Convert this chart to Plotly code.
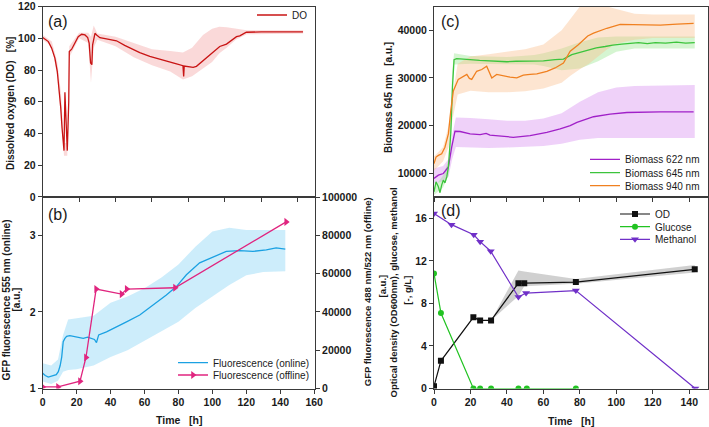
import plotly.graph_objects as go

FONT = "Liberation Sans, Arial, sans-serif"

# ---------------- Panel (a): dissolved oxygen ----------------
do_time = [0, 3.1, 4.9, 6.7, 8.0, 8.9, 9.9, 10.6, 11.3, 11.7, 12.2, 12.8, 13.5, 14.3, 14.6,
           15.9, 17.7, 19.5, 21.4, 23.2, 24.7, 25.5, 26.3, 27.0, 27.4, 27.8, 28.7, 29.6,
           31.4, 35, 40.5, 45, 49.7, 53.3, 58.8, 64.3, 68, 73, 77, 77.4, 77.7, 80, 82.6,
           84.4, 88, 93.5, 97.2, 100.9, 106.4, 108.2, 111.8, 120, 130, 142.9]
do_value = [100.5, 97.9, 93.8, 87.5, 79.2, 68.8, 56.3, 43.8, 33.4, 29.2, 66, 45, 29.2, 60, 91.7,
            93.1, 96.9, 101, 102.5, 102.1, 100.4, 96.9, 84.4, 83.4, 95.9, 97.9, 103.1, 102.1,
            100.4, 99.6, 98.4, 95.5, 92.7, 91, 88.6, 87, 85.9, 84, 82.7, 76, 82.5, 82, 81.7,
            82.3, 85.9, 91.7, 94.8, 96.3, 101, 101.5, 103.8, 104, 104, 104]
do_band_time = [0, 5, 8, 10, 11.7, 13.5, 14.6, 20, 25, 26.5, 28, 30, 40, 50, 60, 70, 77, 82,
                88, 93, 97, 101, 106, 112, 143]
do_band_low = [99, 95, 76, 52, 26, 26, 88, 100, 97, 72, 94, 99, 95, 88, 83, 79, 74, 76,
               81, 85, 90.5, 94, 99, 102.5, 103]
do_band_high = [102, 98, 85, 66, 34, 34, 95, 103.5, 103.5, 101, 108, 103, 101, 97, 93, 92, 91, 94,
                102, 106, 107.3, 107, 106, 105, 105]
do_ticks = [0, 20, 40, 60, 80, 100, 120]

# ---------------- Panel (b): GFP fluorescence ----------------
fl_time = [0, 1.5, 3.3, 5, 6.3, 8, 9.2, 10.3, 11.2, 12.1, 13, 14.1, 16, 18, 21, 23.9, 26.5,
           28.8, 30.5, 31.7, 33, 37.6, 43.5, 49.4, 57.2, 65.1, 72.9, 78.8, 84.7, 92.5, 100.4,
           108.2, 116.1, 123.9, 131.8, 137.6, 143]
fl_value = [1.2, 1.17, 1.15, 1.16, 1.16, 1.18, 1.22, 1.3, 1.41, 1.61, 1.65, 1.68, 1.69, 1.68,
            1.67, 1.655, 1.67, 1.655, 1.64, 1.6, 1.7, 1.74, 1.81, 1.87, 1.96, 2.09, 2.22, 2.33,
            2.485, 2.64, 2.72, 2.79, 2.80, 2.79, 2.81, 2.835, 2.82]
fl_band_time = [0, 5, 9, 12, 15, 20, 30, 40, 50, 60, 70, 80, 90, 100, 110, 120, 130, 143]
fl_band_low = [1.09, 1.06, 1.1, 1.22, 1.24, 1.25, 1.3, 1.41, 1.5, 1.63, 1.75, 1.87, 2.05,
               2.2, 2.35, 2.48, 2.52, 2.53]
fl_band_high = [1.33, 1.3, 1.38, 1.7, 1.9, 1.92, 1.95, 2.12, 2.2, 2.31, 2.45, 2.62, 2.85,
                3.05, 3.1, 3.07, 3.07, 3.07]
off_time = [0, 9, 22, 25.5, 31.5, 46.5, 49.5, 78, 143.5]
off_value = [800, 800, 3800, 16200, 51900, 49300, 51900, 52600, 87000]
time_ticks_b = [0, 20, 40, 60, 80, 100, 120, 140, 160]
fl_ticks = [1, 2, 3]
off_ticks = [0, 20000, 40000, 60000, 80000, 100000]

# ---------------- Panel (c): biomass ----------------
b622_time = [0, 2.4, 5.1, 7.9, 9.7, 11.5, 14.3, 19.8, 25.3, 28.6, 30.7, 43.5, 52.7, 61.9,
             69.2, 74.7, 78.4, 87.5, 96.6, 105.8, 124.1, 142.4]
b622_value = [8900, 9580, 9930, 11300, 15460, 18800, 18750, 18250, 18100, 18370, 18000, 17540,
              17900, 18580, 19290, 19980, 20670, 21850, 22400, 22740, 22880, 22890]
b622_band_time = [0, 5, 8, 10, 12, 20, 30, 40, 50, 60, 70, 80, 90, 100, 110, 120, 143]
b622_band_low = [7800, 8300, 9300, 13000, 15500, 15400, 15300, 15400, 15500, 15700, 16200,
                 17000, 17400, 17400, 17400, 17400, 17400]
b622_band_high = [11000, 11500, 13000, 18000, 21700, 21600, 21300, 21000, 21000, 21500, 22600,
                  25000, 27000, 28000, 28300, 28400, 28500]

b645_time = [0, 1.1, 2.4, 3.3, 4.2, 5.1, 6, 7, 7.9, 9.2, 10.2, 11, 12.4, 16, 19.8, 25, 30,
             34.4, 40, 45, 52.7, 60, 66.4, 71, 75.6, 80, 84.7, 89, 93.9, 98, 103, 108, 112.2,
             117, 121.4, 127, 133, 138, 143]
b645_value = [6100, 8180, 7140, 5900, 7500, 8540, 7980, 9220, 11300, 18250, 28650, 33850, 34060,
              33900, 33850, 33700, 33600, 33500, 33400, 33500, 33500, 33600, 33850, 33950, 34900,
              35400, 35930, 36300, 36600, 36900, 37100, 37300, 37400, 37200, 37400, 37300, 37500,
              37300, 37400]
b645_band_time = [0, 5, 8, 10, 11, 20, 40, 55, 60, 70, 80, 90, 100, 110, 120, 143]
b645_band_low = [5400, 7000, 9500, 25000, 32800, 33000, 32900, 32800, 32500, 31600, 32000,
                 33500, 35500, 36200, 36200, 36200]
b645_band_high = [7000, 9500, 12800, 31500, 35200, 34600, 34400, 34800, 35200, 36200, 37500,
                  38500, 38700, 38700, 38700, 38700]

b940_time = [0, 1.1, 2.4, 4.2, 6, 7, 7.9, 9.2, 10.6, 13.3, 16.1, 18, 19.4, 20.7, 23.4, 26.2,
             28.9, 31.7, 34.4, 38, 41.7, 45.4, 49, 52.7, 56.4, 61.9, 66.4, 71, 74.7, 79, 84.3,
             87.5, 94.8, 102.1, 115, 124.1, 133.3, 142.4]
b940_value = [12000, 13380, 13740, 14090, 15460, 16860, 18250, 23100, 27260, 29700, 30380, 30730,
              29900, 29700, 31400, 31770, 32460, 30000, 30730, 30400, 30180, 30000, 30580, 30730,
              30870, 31400, 32100, 33140, 35600, 36900, 38800, 39400, 40430, 41250, 41250, 41100,
              41300, 41450]
b940_band_time = [0, 5, 8, 10, 13, 20, 30, 40, 50, 60, 65, 70, 75, 80, 85, 90, 95, 100, 110,
                  120, 143]
b940_band_low = [10500, 12500, 15500, 21000, 26500, 27300, 27000, 27000, 27200, 27800, 28400,
                 29000, 30500, 31800, 33000, 34500, 36000, 37200, 38000, 38400, 38400]
b940_band_high = [13500, 15500, 20000, 26000, 33000, 34500, 35000, 35500, 36000, 37000, 38500,
                  40000, 42500, 45000, 45000, 45000, 45000, 44500, 43500, 43300, 43300]
biomass_ticks = [10000, 20000, 30000, 40000]

# ---------------- Panel (d): OD, glucose, methanol ----------------
od_time = [0, 3.8, 21.6, 25.3, 31.3, 46.3, 49.5, 77.8, 143]
od_value = [0.2, 2.6, 6.69, 6.4, 6.4, 9.9, 9.9, 10.0, 11.2]
od_band_time = [31.3, 46.3, 49.5, 77.8, 143]
od_band_low = [6.4, 8.7, 9.6, 9.85, 10.9]
od_band_high = [6.4, 11.1, 11.0, 10.3, 11.6]
glc_time = [0, 3.8, 21.6, 25.3, 31.3, 46.3, 50.9, 77.8]
glc_value = [10.8, 7.1, 0, 0, 0, 0, 0, 0]
meoh_time = [0, 9.6, 21.8, 25.3, 31.1, 46.3, 50.5, 77.8, 143.3]
meoh_value = [16.45, 15.4, 14.45, 13.8, 12.9, 8.6, 8.97, 9.2, 0]
time_ticks_d = [0, 20, 40, 60, 80, 100, 120, 140]
conc_ticks = [0, 4, 8, 12, 16]

# ---------------- colours ----------------
C_DO = "#c81414"
C_FL = "#1ba1e2"
C_OFF = "#e0257f"
C_622 = "#a020c8"
C_645 = "#3cc43c"
C_940 = "#f08020"
C_GLC = "#22c322"
C_MEOH = "#7030c8"

fig = go.Figure()


def band(t, lo, hi, color, xa, ya):
    fig.add_trace(go.Scatter(x=list(t) + list(t)[::-1], y=list(hi) + list(lo)[::-1],
                             fill="toself", fillcolor=color, line=dict(width=0),
                             mode="lines", hoverinfo="skip", showlegend=False,
                             xaxis=xa, yaxis=ya))


# (a)
band(do_band_time, do_band_low, do_band_high, "rgba(240,140,140,0.33)", "x", "y")
fig.add_trace(go.Scatter(x=do_time, y=do_value, mode="lines", name="DO",
                         line=dict(color=C_DO, width=1.3), xaxis="x", yaxis="y",
                         legend="legend"))
# (b)
band(fl_band_time, fl_band_low, fl_band_high, "rgba(130,210,245,0.40)", "x2", "y2")
fig.add_trace(go.Scatter(x=fl_time, y=fl_value, mode="lines", name="Fluorescence (online)",
                         line=dict(color=C_FL, width=1.3), xaxis="x2", yaxis="y2",
                         legend="legend2"))
fig.add_trace(go.Scatter(x=off_time, y=off_value, mode="lines+markers",
                         name="Fluorescence (offline)",
                         line=dict(color=C_OFF, width=1.3),
                         marker=dict(symbol="triangle-right", size=7, color=C_OFF),
                         xaxis="x2", yaxis="y3", legend="legend3"))
# (c)
band(b622_band_time, b622_band_low, b622_band_high, "rgba(215,140,240,0.40)", "x3", "y4")
band(b645_band_time, b645_band_low, b645_band_high, "rgba(150,230,140,0.40)", "x3", "y4")
band(b940_band_time, b940_band_low, b940_band_high, "rgba(250,190,140,0.40)", "x3", "y4")
fig.add_trace(go.Scatter(x=b622_time, y=b622_value, mode="lines", name="Biomass 622 nm",
                         line=dict(color=C_622, width=1.3), xaxis="x3", yaxis="y4",
                         legend="legend4"))
fig.add_trace(go.Scatter(x=b645_time, y=b645_value, mode="lines", name="Biomass 645 nm",
                         line=dict(color=C_645, width=1.3), xaxis="x3", yaxis="y4",
                         legend="legend5"))
fig.add_trace(go.Scatter(x=b940_time, y=b940_value, mode="lines", name="Biomass 940 nm",
                         line=dict(color=C_940, width=1.3), xaxis="x3", yaxis="y4",
                         legend="legend6"))
# (d)
band(od_band_time, od_band_low, od_band_high, "rgba(170,170,170,0.55)", "x4", "y5")
fig.add_trace(go.Scatter(x=od_time, y=od_value, mode="lines+markers", name="OD",
                         line=dict(color="#111111", width=1.2),
                         marker=dict(symbol="square", size=6, color="#111111"),
                         xaxis="x4", yaxis="y5", legend="legend7"))
fig.add_trace(go.Scatter(x=glc_time, y=glc_value, mode="lines+markers", name="Glucose",
                         line=dict(color=C_GLC, width=1.2),
                         marker=dict(symbol="circle", size=6, color=C_GLC),
                         xaxis="x4", yaxis="y5", legend="legend8"))
fig.add_trace(go.Scatter(x=meoh_time, y=meoh_value, mode="lines+markers", name="Methanol",
                         line=dict(color=C_MEOH, width=1.2),
                         marker=dict(symbol="triangle-down", size=7, color=C_MEOH),
                         xaxis="x4", yaxis="y5", legend="legend9"))

W, H = 709, 427


def px(x):
    return x / W


def py(y):
    return 1 - y / H


LC = "#3a3a3a"
tickf = dict(family=FONT, size=10.5, color="#1a1a1a", weight="bold")
base = dict(showline=True, linecolor=LC, linewidth=1, mirror=True, ticks="outside", ticklen=4,
            tickcolor=LC, showgrid=False, zeroline=False, tickfont=tickf,
            ticklabeloverflow="allow", tickformat="d", tickmode="array", automargin=False)

dom_left = [px(42.7), px(315)]
dom_right = [px(434), px(707.5)]
dom_top = [py(197), py(6.5)]
dom_bot = [py(388.5), py(197)]

layout = dict(
    template="none",
    width=W, height=H, margin=dict(l=0, r=0, t=0, b=0, autoexpand=False),
    paper_bgcolor="white", plot_bgcolor="rgba(0,0,0,0)", showlegend=True,
    xaxis=dict(base, domain=dom_left, range=[0, 149.5], tickvals=time_ticks_d,
               showticklabels=False, anchor="y"),
    yaxis=dict(base, domain=dom_top, range=[-0.01, 120.01], tickvals=do_ticks, anchor="x"),
    xaxis2=dict(base, domain=dom_left, range=[0, 160.5], tickvals=time_ticks_b, anchor="y2"),
    yaxis2=dict(base, domain=dom_bot, range=[1, 3.5], tickvals=fl_ticks, anchor="x2"),
    yaxis3=dict(base, range=[0, 100000], tickvals=off_ticks, overlaying="y2",
                side="right", anchor="x2", mirror=False),
    xaxis3=dict(base, domain=dom_right, range=[0, 150], tickvals=time_ticks_d,
                showticklabels=False, anchor="y4"),
    yaxis4=dict(base, domain=dom_top, range=[5000, 45000], tickvals=biomass_ticks,
                anchor="x3"),
    xaxis4=dict(base, domain=dom_right, range=[0, 150], tickvals=time_ticks_d, anchor="y5"),
    yaxis5=dict(base, domain=dom_bot, range=[0, 18], tickvals=conc_ticks, anchor="x4"),
)

legf = dict(family=FONT, size=10, color="#1a1a1a")


def leg(line_end, yline):
    return dict(x=px(line_end - 35), y=py(yline), xanchor="left", yanchor="middle",
                bgcolor="rgba(0,0,0,0)", borderwidth=0, font=legf, itemwidth=30)


layout["legend"] = leg(287, 15)
layout["legend2"] = leg(208, 362.7)
layout["legend3"] = leg(208, 375)
layout["legend4"] = leg(620, 159.3)
layout["legend5"] = leg(620, 172.7)
layout["legend6"] = leg(620, 185.7)
layout["legend7"] = leg(650, 214)
layout["legend8"] = leg(650, 226.7)
layout["legend9"] = leg(650, 239.3)

NB = "\u00a0"
titf = dict(family=FONT, size=10, color="#1a1a1a", weight="bold")
titf2 = dict(family=FONT, size=9.5, color="#1a1a1a", weight="bold")
annots = []


def vtitle(text, x, y, font):
    annots.append(dict(text=text, x=px(x), y=py(y), xref="paper", yref="paper",
                       xanchor="center", yanchor="middle", textangle=-90, showarrow=False,
                       font=font))


def htitle(text, x, y, font, anchor="center"):
    annots.append(dict(text=text, x=px(x), y=py(y), xref="paper", yref="paper",
                       xanchor=anchor, yanchor="middle", showarrow=False, font=font))


vtitle("Dissolved oxygen (DO)" + NB * 3 + "[%]", 10, 104, titf)
vtitle("GFP fluorescence 555 nm (online)", 5.5, 300, titf)
vtitle("[a.u.]", 15.5, 300, titf)
vtitle("Biomass 645 nm" + NB * 3 + "[a.u.]", 388, 98, titf)
vtitle("GFP fluorescence 488 nm/522 nm (offline)", 367.7, 291.5, titf2)
vtitle("[a.u.]", 381.5, 286, titf2)
vtitle("Optical density (OD600nm), glucose, methanol", 393, 292.5, titf2)
vtitle("[-, g/L]", 406.7, 290, titf2)
htitle("Time" + NB * 3 + "[h]", 179, 420, dict(titf, size=10.5))
htitle("Time" + NB * 3 + "[h]", 571, 420.5, dict(titf, size=10.5))

panf = dict(family=FONT, size=16, color="#1a1a1a")
htitle("(a)", 46, 21, panf, anchor="left")
htitle("(b)", 46, 214, panf, anchor="left")
htitle("(c)", 439, 21, panf, anchor="left")
htitle("(d)", 439, 210, panf, anchor="left")

layout["annotations"] = annots
fig.update_layout(**layout)
fig.write_html("out.html")
